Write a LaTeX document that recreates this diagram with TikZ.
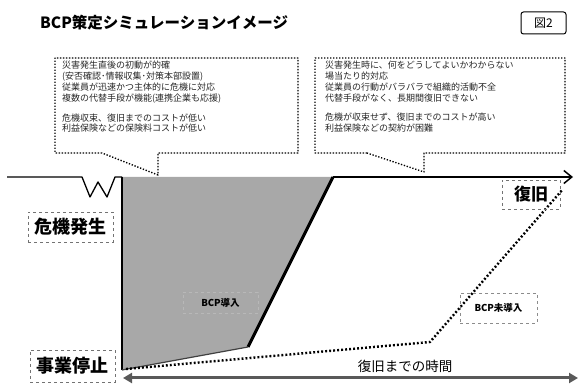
\documentclass[tikz,border=0pt]{standalone}
\usepackage{fontspec}
\setmainfont{Noto Sans CJK JP}
\usetikzlibrary{arrows.meta}
\begin{document}
\begin{tikzpicture}[x=1pt,y=-1pt,
  callout/.style={draw=black, line width=1.4pt, dash pattern=on 1.3pt off 1.7pt, line join=round},
  calltext/.style={anchor=north west, align=left, inner sep=0pt, font=\fontsize{9}{10.8}\selectfont, text=black!85},
  bigtag/.style={draw=black!55, dashed, line width=0.6pt, font=\bfseries\fontsize{18}{18}\selectfont, inner sep=0pt},
  smalltag/.style={draw=black!45, dashed, line width=0.5pt, font=\bfseries\fontsize{9.5}{10}\selectfont, inner sep=0pt},
  dotline/.style={line width=2.4pt, black, dash pattern=on 1.9pt off 2.1pt},
]
\useasboundingbox (0,0) rectangle (579,390);

% title and figure number
\node[anchor=west, font=\bfseries\fontsize{15.5}{15.5}\selectfont, inner sep=0pt] (title) at (40,23) {BCP策定シミュレーションイメージ};
\node[draw, rounded corners=2.5pt, line width=1pt, minimum width=45pt, minimum height=22pt, inner sep=0pt, font=\fontsize{12}{12}\selectfont] (fig) at (543.5,23) {図2};

% key points
\coordinate (start) at (7,177);
\coordinate (w0) at (82,177);
\coordinate (TL) at (122,177);
\coordinate (TR) at (333,177);
\coordinate (BR) at (248,347);
\coordinate (BL) at (122,370);
\coordinate (TE) at (573,177);
\coordinate (AL) at (123,378);
\coordinate (AR) at (578,378);
\coordinate (D0) at (126,369);
\coordinate (D1) at (430,342);
\coordinate (D2) at (563,189);

% grey area (BCP導入)
\fill[black!34] (TL) -- (TR) -- (BR) -- (BL) -- cycle;
\draw[line width=2.2pt] (TL) -- (BL);
\draw[line width=3pt] (TR) -- (BR);
\draw[line width=1.2pt, black!75] (BR) -- (BL);

% normal line with W
\draw[line width=1.3pt, line join=round] (start) -- (w0) -- (90,197) -- (98,182) -- (107,197) -- (115,177) -- (TL);

% recovery arrow
\draw[line width=2pt, -{Straight Barb[length=8pt,width=13pt,line width=1.5pt]}] (TR) -- (TE);

% time arrow
\draw[line width=3pt, black!65, {Triangle[length=9pt,width=10pt]}-{Triangle[length=9pt,width=10pt]}] (AL) -- (AR);
\node[font=\fontsize{13.5}{14}\selectfont, inner sep=0pt] (time) at (405,366) {復旧までの時間};

% BCP未導入 dotted path
\draw[dotline] (D0) -- (D1) -- (D2);

% tags
\node[bigtag, minimum width=85pt, minimum height=30pt] (crisis) at (70.5,227) {危機発生};
\node[bigtag, minimum width=85pt, minimum height=32pt] (stop) at (72.5,366) {事業停止};
\node[bigtag, minimum width=58pt, minimum height=29pt, font=\bfseries\fontsize{17}{17}\selectfont] (recov) at (531,194.5) {復旧};
\node[smalltag, draw=black!28, minimum width=75pt, minimum height=21pt] (bcp) at (220.5,302.5) {BCP導入};
\node[smalltag, minimum width=77pt, minimum height=30pt] (nobcp) at (498.5,308) {BCP未導入};

% callouts
\draw[callout] (102,153) -- (55,153) -- (55,58) -- (298,58) -- (298,153) -- (158,153) -- (158,175) -- cycle;
\draw[callout] (367,153) -- (315,153) -- (315,58) -- (565,58) -- (565,153) -- (424,153) -- (424,172) -- cycle;

\node[calltext] (ltext) at (62,61) {災害発生直後の初動が的確\\(安否確認･情報収集･対策本部設置)\\従業員が迅速かつ主体的に危機に対応\\複数の代替手段が機能(連携企業も応援)\\[9pt]危機収束、復旧までのコストが低い\\利益保険などの保険料コストが低い};
\node[calltext] (rtext) at (325,61) {災害発生時に、何をどうしてよいかわからない\\場当たり的対応\\従業員の行動がバラバラで組織的活動不全\\代替手段がなく、長期間復旧できない\\[9pt]危機が収束せず、復旧までのコストが高い\\利益保険などの契約が困難};
\end{tikzpicture}
\end{document}
